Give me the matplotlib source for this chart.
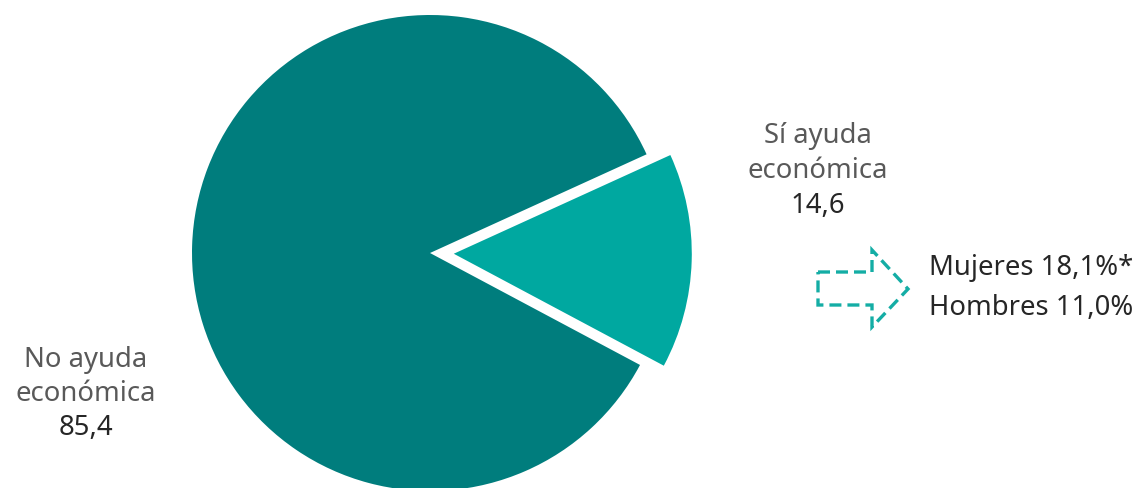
import matplotlib
matplotlib.use('Agg')
import matplotlib.pyplot as plt
from matplotlib.patches import Polygon

# Data
categories = [['No ayuda', 'económica'], ['Sí ayuda', 'económica']]
values = [85.4, 14.6]
value_labels = ['85,4', '14,6']
sex_labels = ['Mujeres 18,1%*', 'Hombres 11,0%']
colors = ['#007D7D', '#00A8A0']

plt.rcParams['font.family'] = ['Noto Sans', 'DejaVu Sans']

W, H = 1139, 488
fig = plt.figure(figsize=(W / 100, H / 100), dpi=100)
ax = fig.add_axes([0, 0, 1, 1])

# pie centre / radius in pixels
cx, cy, r = 430, 253, 238

ax.pie(values, colors=colors, startangle=24.5, counterclock=True,
       explode=[0, 0.1], radius=1, center=(0, 0),
       wedgeprops=dict(linewidth=0))
ax.set_xlim(-cx / r, (W - cx) / r)
ax.set_ylim(-(H - cy) / r, cy / r)
ax.set_aspect('equal')
ax.axis('off')

grey = '#595959'
dark = '#262626'
fs = 19.8

def fx(px):
    return px / W

def fy(py):
    return 1 - py / H

# slice labels (baselines in px)
def label(x, y0, lines, value, step):
    for i, line in enumerate(lines):
        fig.text(fx(x), fy(y0 + i * step), line, ha='center', va='baseline',
                 fontsize=fs, color=grey)
    fig.text(fx(x), fy(y0 + len(lines) * step), value, ha='center',
             va='baseline', fontsize=fs, color=dark)

label(818, 143, categories[1], value_labels[1], 35)
label(86, 367, categories[0], value_labels[0], 34)

# dashed arrow
arrow_px = [(818, 272), (872, 272), (872, 250), (908, 289),
            (872, 327), (872, 305), (818, 305)]
arrow = Polygon([(fx(x), fy(y)) for x, y in arrow_px], closed=True,
                transform=fig.transFigure, fill=False, edgecolor='#14ADA5',
                linewidth=2.4, linestyle=(0, (3.6, 1.8)))
fig.add_artist(arrow)

fig.text(fx(929), fy(275), sex_labels[0], ha='left', va='baseline',
         fontsize=fs, color=dark)
fig.text(fx(929), fy(315), sex_labels[1], ha='left', va='baseline',
         fontsize=fs, color=dark)

fig.savefig('out.png', dpi=100)
